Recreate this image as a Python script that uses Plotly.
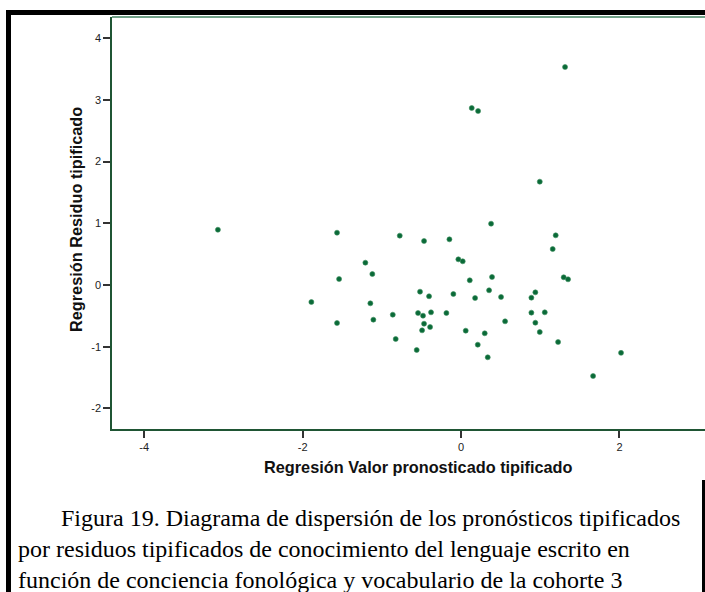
import plotly.graph_objects as go

# Standardized predicted values (x) and standardized residuals (y)
pred_std = [
    -3.07, -1.566, -1.208, -1.12, -1.54, -1.89, -1.145, -1.107, -1.566,
    0.379, -0.774, -0.467, -0.147, 1.195, 1.157, -0.034, 0.021, 0.11,
    0.391, 1.296, 1.351, -0.518, -0.404, -0.097, 0.354, 0.177, 0.505,
    0.938, 0.888, -0.862, -0.543, -0.48, -0.379, -0.185, 0.888, 1.057,
    -0.467, -0.391, -0.492, 0.938, 0.556, 0.059, 0.299, 0.994, -0.825,
    0.211, 1.225, -0.56, 0.337, 2.02, 1.667, 1.313, 0.135, 0.215, 0.994,
]
resid_std = [
    0.896, 0.848, 0.362, 0.178, 0.097, -0.276, -0.297, -0.562, -0.616,
    0.994, 0.80, 0.713, 0.74, 0.805, 0.583, 0.416, 0.384, 0.076,
    0.13, 0.125, 0.092, -0.108, -0.183, -0.146, -0.086, -0.211, -0.194,
    -0.119, -0.205, -0.481, -0.454, -0.497, -0.443, -0.454, -0.448, -0.443,
    -0.627, -0.681, -0.735, -0.611, -0.589, -0.74, -0.783, -0.762, -0.875,
    -0.967, -0.924, -1.053, -1.172, -1.1, -1.475, 3.533, 2.869, 2.82, 1.675,
]

x_tickvals = [-4, -2, 0, 2]
x_ticktext = ["-4", "-2", "0", "2"]
y_tickvals = [-2, -1, 0, 1, 2, 3, 4]
y_ticktext = ["-2", "-1", "0", "1", "2", "3", "4"]

x_title = "Regresión Valor pronosticado tipificado"
y_title = "Regresión Residuo tipificado"
caption_lines = [
    "Figura 19. Diagrama de dispersión de los pronósticos tipificados",
    "por residuos tipificados de conocimiento del lenguaje escrito en",
    "función de conciencia fonológica y vocabulario de la cohorte 3",
]

W, H = 705, 592
L, R, T, B = 112, 705, 17, 429  # plot area in pixels


def px(x):
    return (x - L) / (R - L)


def py(y):
    return (B - y) / (B - T)


sans = "Liberation Sans, Arial, sans-serif"
serif = "Liberation Serif, Times New Roman, serif"

fig = go.Figure(
    go.Scatter(
        x=pred_std,
        y=resid_std,
        mode="markers",
        marker=dict(size=5, color="#0a6a38", line=dict(width=0.6, color="#3f8f60")),
        cliponaxis=False,
        hoverinfo="skip",
    )
)

axis_common = dict(
    showgrid=False,
    zeroline=False,
    showline=True,
    linecolor="#1f5534",
    linewidth=1.5,
    ticks="outside",
    ticklen=7,
    tickwidth=1.5,
    tickcolor="#333333",
    tickfont=dict(family=sans, size=11, color="#222222"),
)

fig.update_xaxes(range=[-4.407, 3.08], tickvals=x_tickvals, ticktext=x_ticktext, **axis_common)
fig.update_yaxes(range=[-2.334, 4.344], tickvals=y_tickvals, ticktext=y_ticktext, **axis_common)

shapes = [
    # light frame line on top of the plot area
    dict(type="line", xref="paper", yref="paper", x0=0, x1=1, y0=1, y1=1,
         line=dict(color="#6f9f86", width=2)),
    # black page border pieces
    dict(type="rect", xref="paper", yref="paper", x0=px(6), x1=px(705), y0=py(10), y1=py(15),
         fillcolor="black", line=dict(width=0)),
    dict(type="rect", xref="paper", yref="paper", x0=px(6), x1=px(11), y0=py(10), y1=py(592),
         fillcolor="black", line=dict(width=0)),
    dict(type="rect", xref="paper", yref="paper", x0=px(702), x1=px(706), y0=py(480), y1=py(592),
         fillcolor="black", line=dict(width=0)),
]

annotations = [
    dict(text=f"<b>{x_title}</b>", xref="paper", yref="paper", x=px(418), y=py(467),
         showarrow=False, xanchor="center", yanchor="middle",
         font=dict(family=sans, size=16.3, color="#111111")),
    dict(text=f"<b>{y_title}</b>", xref="paper", yref="paper", x=px(76), y=py(220),
         showarrow=False, xanchor="center", yanchor="middle", textangle=-90,
         font=dict(family=sans, size=16.3, color="#111111")),
]
caption_x = [59, 16, 16]
caption_y = [518, 549, 580]
for text, cx, cy in zip(caption_lines, caption_x, caption_y):
    annotations.append(
        dict(text=text, xref="paper", yref="paper", x=px(cx), y=py(cy),
             showarrow=False, xanchor="left", yanchor="middle",
             font=dict(family=serif, size=24, color="#000000"))
    )

fig.update_layout(
    width=W,
    height=H,
    margin=dict(l=L, r=W - R, t=T, b=H - B, pad=0),
    paper_bgcolor="white",
    plot_bgcolor="white",
    showlegend=False,
    shapes=shapes,
    annotations=annotations,
)

fig.write_html("out.html")
